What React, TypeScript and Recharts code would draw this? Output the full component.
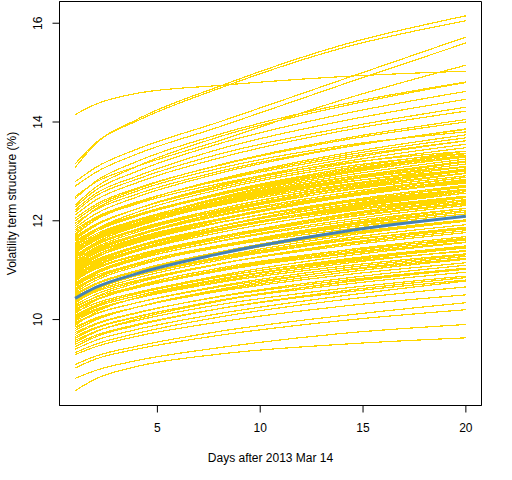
import { Line, LineChart, ReferenceArea, XAxis, YAxis } from "recharts";

const days = [1, 2, 4, 8, 14, 20];
const xTicks = [5, 10, 15, 20];
const yTicks = [10, 12, 14, 16];

// blue reference curve
const meanCurve = [10.43, 10.65, 10.93, 11.33, 11.78, 12.09];

// yellow curves at days 1, 2, 4, 8, 14, 20
const topCurves = [
  [14.15, 14.36, 14.58, 14.74, 14.92, 15.03],
  [13.15, 13.58, 14.02, 14.68, 15.5, 16.05],
  [13.08, 13.56, 14.05, 14.72, 15.56, 16.15],
  [12.79, 13.08, 13.45, 14.0, 14.86, 15.72],
  [12.7, 12.98, 13.35, 13.9, 14.76, 15.6],
  [12.49, 12.78, 13.1, 13.62, 14.45, 15.15],
  [12.45, 12.8, 13.2, 13.75, 14.36, 14.81],
  [12.32, 12.68, 13.1, 13.7, 14.32, 14.8],
  [12.28, 12.62, 13.0, 13.56, 14.16, 14.62],
  [12.22, 12.55, 12.9, 13.45, 14.02, 14.46],
  [12.18, 12.5, 12.84, 13.35, 13.88, 14.3],
  [12.12, 12.42, 12.77, 13.27, 13.82, 14.22],
];

const upperCurves = [
  [12.05, 12.33, 12.66, 13.12, 13.63, 14.0],
  [12.0, 12.29, 12.64, 13.13, 13.66, 14.05],
  [11.95, 12.22, 12.54, 13.0, 13.49, 13.85],
  [11.9, 12.24, 12.6, 13.06, 13.52, 13.8],
  [11.86, 12.14, 12.48, 12.96, 13.48, 13.86],
  [11.82, 12.07, 12.38, 12.81, 13.28, 13.62],
  [11.78, 12.05, 12.37, 12.83, 13.32, 13.68],
  [11.74, 12.02, 12.36, 12.84, 13.36, 13.74],
  [11.71, 12.02, 12.34, 12.75, 13.16, 13.41],
  [11.68, 11.93, 12.24, 12.67, 13.14, 13.48],
  [11.65, 11.92, 12.24, 12.7, 13.19, 13.55],
  [11.62, 11.9, 12.24, 12.72, 13.24, 13.62],
  [11.59, 11.83, 12.12, 12.53, 12.97, 13.29],
  [11.56, 11.81, 12.12, 12.55, 13.02, 13.36],
];

const middleCurves = [
  [11.53, 11.78, 12.09, 12.52, 12.99, 13.33],
  [11.51, 11.78, 12.1, 12.56, 13.05, 13.41],
  [11.49, 11.73, 12.02, 12.43, 12.87, 13.19],
  [11.47, 11.81, 12.17, 12.63, 13.09, 13.37],
  [11.45, 11.7, 12.01, 12.44, 12.91, 13.25],
  [11.43, 11.65, 11.93, 12.31, 12.73, 13.03],
  [11.41, 11.68, 12.0, 12.46, 12.95, 13.31],
  [11.39, 11.63, 11.92, 12.33, 12.77, 13.09],
  [11.37, 11.65, 11.99, 12.47, 12.99, 13.37],
  [11.35, 11.6, 11.91, 12.34, 12.81, 13.15],
  [11.33, 11.64, 11.96, 12.37, 12.78, 13.03],
  [11.31, 11.53, 11.81, 12.19, 12.61, 12.91],
  [11.29, 11.56, 11.88, 12.34, 12.83, 13.19],
  [11.27, 11.51, 11.8, 12.21, 12.65, 12.97],
  [11.25, 11.5, 11.81, 12.24, 12.71, 13.05],
  [11.22, 11.44, 11.72, 12.1, 12.52, 12.82],
  [11.2, 11.54, 11.9, 12.36, 12.82, 13.1],
  [11.18, 11.42, 11.71, 12.12, 12.56, 12.88],
  [11.16, 11.41, 11.72, 12.15, 12.62, 12.96],
  [11.14, 11.35, 11.61, 11.97, 12.36, 12.64],
  [11.12, 11.39, 11.71, 12.17, 12.66, 13.02],
  [11.1, 11.34, 11.63, 12.04, 12.48, 12.8],
  [11.08, 11.3, 11.58, 11.96, 12.38, 12.68],
  [11.06, 11.37, 11.69, 12.1, 12.51, 12.76],
  [11.04, 11.29, 11.6, 12.03, 12.5, 12.84],
  [11.02, 11.26, 11.55, 11.96, 12.4, 12.72],
  [11.0, 11.21, 11.47, 11.83, 12.22, 12.5],
  [10.98, 11.25, 11.57, 12.03, 12.52, 12.88],
  [10.96, 11.18, 11.46, 11.84, 12.26, 12.56],
  [10.94, 11.18, 11.47, 11.88, 12.32, 12.64],
  [10.92, 11.19, 11.48, 11.84, 12.2, 12.42],
  [10.9, 11.15, 11.46, 11.89, 12.36, 12.7],
  [10.88, 11.1, 11.38, 11.76, 12.18, 12.48],
  [10.86, 11.1, 11.39, 11.8, 12.24, 12.56],
  [10.84, 11.05, 11.31, 11.67, 12.06, 12.34],
  [10.82, 11.07, 11.38, 11.81, 12.28, 12.62],
  [10.8, 11.02, 11.3, 11.68, 12.1, 12.4],
  [10.77, 11.08, 11.4, 11.81, 12.22, 12.47],
  [10.75, 10.96, 11.22, 11.58, 11.97, 12.25],
  [10.73, 10.97, 11.26, 11.67, 12.11, 12.43],
  [10.71, 10.93, 11.21, 11.59, 12.01, 12.31],
  [10.69, 10.89, 11.12, 11.46, 11.82, 12.09],
  [10.67, 10.92, 11.23, 11.66, 12.13, 12.47],
  [10.64, 10.85, 11.11, 11.47, 11.86, 12.14],
  [10.61, 10.83, 11.11, 11.49, 11.91, 12.21],
  [10.58, 10.85, 11.14, 11.5, 11.86, 12.08],
  [10.55, 10.79, 11.08, 11.49, 11.93, 12.25],
  [10.52, 10.73, 10.99, 11.35, 11.74, 12.02],
  [10.49, 10.71, 10.99, 11.37, 11.79, 12.09],
  [10.46, 10.66, 10.89, 11.23, 11.59, 11.86],
];

// extra curves in the densest part of the band
const fillCurves = [
  [11.52, 11.78, 12.1, 12.54, 13.02, 13.37],
  [11.44, 11.69, 11.99, 12.4, 12.86, 13.19],
  [11.36, 11.62, 11.94, 12.38, 12.86, 13.21],
  [11.28, 11.53, 11.83, 12.24, 12.7, 13.03],
  [11.21, 11.46, 11.77, 12.2, 12.67, 13.01],
  [11.13, 11.36, 11.65, 12.04, 12.47, 12.78],
  [11.05, 11.3, 11.6, 12.01, 12.47, 12.8],
  [10.97, 11.2, 11.49, 11.88, 12.31, 12.62],
  [10.89, 11.13, 11.42, 11.83, 12.27, 12.59],
  [10.81, 11.03, 11.29, 11.66, 12.07, 12.36],
  [10.72, 10.95, 11.24, 11.63, 12.06, 12.37],
  [10.63, 10.85, 11.11, 11.48, 11.89, 12.18],
  [10.5, 10.71, 10.97, 11.33, 11.72, 12.0],
  [10.37, 10.58, 10.84, 11.2, 11.59, 11.87],
  [10.2, 10.4, 10.65, 11.0, 11.37, 11.65],
  [10.05, 10.25, 10.48, 10.82, 11.18, 11.45],
];

const lowerCurves = [
  [10.42, 10.63, 10.89, 11.25, 11.64, 11.92],
  [10.39, 10.61, 10.89, 11.27, 11.69, 11.99],
  [10.36, 10.56, 10.79, 11.13, 11.49, 11.76],
  [10.33, 10.6, 10.89, 11.25, 11.61, 11.83],
  [10.3, 10.51, 10.77, 11.13, 11.52, 11.8],
  [10.27, 10.45, 10.67, 10.99, 11.32, 11.57],
  [10.24, 10.46, 10.74, 11.12, 11.54, 11.84],
  [10.21, 10.41, 10.64, 10.98, 11.34, 11.61],
  [10.18, 10.39, 10.65, 11.01, 11.4, 11.68],
  [10.15, 10.33, 10.55, 10.87, 11.2, 11.45],
  [10.12, 10.39, 10.68, 11.04, 11.4, 11.62],
  [10.09, 10.29, 10.52, 10.86, 11.22, 11.49],
  [10.06, 10.27, 10.53, 10.89, 11.28, 11.56],
  [10.03, 10.21, 10.43, 10.75, 11.08, 11.33],
  [10.0, 10.2, 10.43, 10.77, 11.13, 11.4],
  [9.97, 10.18, 10.44, 10.8, 11.19, 11.47],
  [9.94, 10.12, 10.34, 10.66, 10.99, 11.24],
  [9.91, 10.11, 10.34, 10.68, 11.04, 11.31],
  [9.88, 10.15, 10.44, 10.8, 11.16, 11.38],
  [9.85, 10.03, 10.25, 10.57, 10.9, 11.15],
  [9.82, 10.02, 10.25, 10.59, 10.95, 11.22],
  [9.78, 9.99, 10.25, 10.61, 11.0, 11.28],
  [9.74, 9.92, 10.14, 10.46, 10.79, 11.04],
  [9.7, 9.9, 10.13, 10.47, 10.83, 11.1],
  [9.66, 9.84, 10.06, 10.38, 10.71, 10.96],
  [9.62, 9.82, 10.05, 10.39, 10.75, 11.02],
  [9.58, 9.76, 9.98, 10.3, 10.63, 10.88],
  [9.54, 9.75, 10.01, 10.37, 10.76, 11.04],
  [9.5, 9.68, 9.9, 10.22, 10.55, 10.8],
  [9.45, 9.65, 9.88, 10.22, 10.58, 10.85],
  [9.4, 9.58, 9.8, 10.12, 10.48, 10.78],
];

const bottomCurves = [
  [9.33, 9.5, 9.72, 10.05, 10.4, 10.66],
  [9.29, 9.45, 9.66, 9.95, 10.27, 10.5],
  [9.09, 9.26, 9.46, 9.76, 10.08, 10.34],
  [9.02, 9.2, 9.4, 9.68, 9.98, 10.2],
  [8.81, 8.97, 9.17, 9.43, 9.72, 9.9],
  [8.56, 8.8, 9.05, 9.3, 9.5, 9.63],
];

const curves = [
  ...topCurves,
  ...upperCurves,
  ...middleCurves,
  ...fillCurves,
  ...lowerCurves,
  ...bottomCurves,
];

const data = days.map((day, i) => {
  const row: Record<string, number> = { day, mean: meanCurve[i] };
  curves.forEach((c, j) => {
    row[`c${j}`] = c[i];
  });
  return row;
});

const font = "'Liberation Sans', Arial, sans-serif";
const xDomain = [0.24, 20.76];
const yDomain = [8.26, 16.44];

function XTick({ x, y, payload }: any) {
  return (
    <text x={x} y={y + 19.5} textAnchor="middle" fontSize={12} fontFamily={font} fill="#000">
      {payload.value}
    </text>
  );
}

function YTick({ x, y, payload }: any) {
  const tx = x - 10;
  return (
    <text
      x={tx}
      y={y}
      transform={`rotate(-90, ${tx}, ${y})`}
      textAnchor="middle"
      fontSize={12}
      fontFamily={font}
      fill="#000"
    >
      {payload.value}
    </text>
  );
}

export default function App() {
  return (
    <div style={{ position: "absolute", left: 0, top: 0, background: "#fff" }}>
      <LineChart
        width={512}
        height={480}
        data={data}
        margin={{ top: 1.5, right: 30.5, left: 0, bottom: 44.5 }}
      >
        <XAxis
          dataKey="day"
          type="number"
          domain={xDomain}
          ticks={xTicks}
          allowDataOverflow
          height={30}
          tickSize={7}
          tickMargin={0}
          stroke="#000"
          tick={<XTick />}
          label={(p: any) => (
            <text
              x={p.viewBox.x + p.viewBox.width / 2}
              y={462}
              textAnchor="middle"
              fontSize={12}
              fontFamily={font}
              fill="#000"
            >
              Days after 2013 Mar 14
            </text>
          )}
        />
        <YAxis
          type="number"
          domain={yDomain}
          ticks={yTicks}
          allowDataOverflow
          width={59.5}
          tickSize={7}
          tickMargin={0}
          stroke="#000"
          tick={<YTick />}
          label={(p: any) => {
            const cy = p.viewBox.y + p.viewBox.height / 2;
            return (
              <text
                x={16}
                y={cy}
                transform={`rotate(-90, 16, ${cy})`}
                textAnchor="middle"
                fontSize={12}
                fontFamily={font}
                fill="#000"
              >
                Volatility term structure (%)
              </text>
            );
          }}
        />
        {curves.map((_, j) => (
          <Line
            key={j}
            dataKey={`c${j}`}
            type="monotone"
            stroke="#FFD700"
            strokeWidth={1.2}
            shapeRendering="crispEdges"
            dot={false}
            activeDot={false}
            isAnimationActive={false}
          />
        ))}
        <Line
          dataKey="mean"
          type="monotone"
          stroke="#4682B4"
          strokeWidth={3}
          dot={false}
          activeDot={false}
          isAnimationActive={false}
        />
        <ReferenceArea
          x1={xDomain[0]}
          x2={xDomain[1]}
          y1={yDomain[0]}
          y2={yDomain[1]}
          fill="none"
          stroke="#000"
          strokeWidth={1}
          ifOverflow="visible"
        />
      </LineChart>
    </div>
  );
}
